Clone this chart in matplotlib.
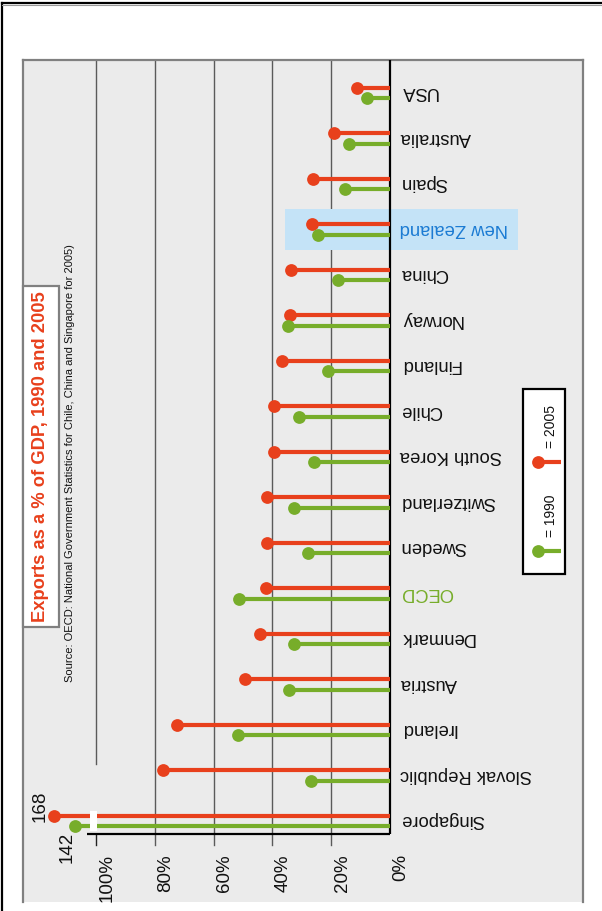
import matplotlib
matplotlib.use("Agg")
import matplotlib.pyplot as plt
from matplotlib.patches import Rectangle
from matplotlib.lines import Line2D
from matplotlib.transforms import Affine2D
from matplotlib import font_manager

# ---- data -------------------------------------------------------------
countries = ["Singapore", "Slovak Republic", "Ireland", "Austria", "Denmark",
             "OECD", "Sweden", "Switzerland", "South Korea", "Chile",
             "Finland", "Norway", "China", "New Zealand", "Spain",
             "Australia", "USA"]
exports_2005 = [168, 77.2, 72.4, 49.3, 44.2, 42.2, 41.8, 41.8, 39.5, 39.5,
                36.7, 34.0, 33.7, 26.5, 26.2, 19.0, 11.2]
exports_1990 = [142, 26.9, 51.7, 34.4, 32.7, 51.4, 27.9, 32.7, 25.9, 31.0,
                21.1, 34.7, 17.7, 24.5, 15.3, 13.9, 7.8]
tick_values = [0, 20, 40, 60, 80, 100]
tick_labels = ["0%", "20%", "40%", "60%", "80%", "100%"]
highlight = "New Zealand"
benchmark = "OECD"
title = "Exports as a % of GDP, 1990 and 2005"
source = ("Source: OECD: National Government Statistics for Chile, China "
          "and Singapore for 2005)")

# ---- style ------------------------------------------------------------
RED = "#E8401C"
GREEN = "#77AD2A"
BLUE_TXT = "#1B7BD3"
BLUE_BOX = "#C4E3F7"
PANEL = "#EBEBEB"
FONT = "Liberation Sans"
names = {f.name for f in font_manager.fontManager.ttflist}
NARROW = "Liberation Sans Narrow" if "Liberation Sans Narrow" in names else FONT

W, H = 602, 912
fig = plt.figure(figsize=(W / 100, H / 100), dpi=100)
px = Affine2D().scale(1 / W, -1 / H).translate(0, 1) + fig.transFigure

# panel geometry (pixels): value axis runs right-to-left
X0, XS = 390, 2.94      # pixel of 0 %, pixels per percentage point
Y0, YS = 822, 45.5      # pixel of first category, pixels per category
L, R, T, B = 23, 583, 61, 903

def v_at(xp):
    return (X0 - xp) / XS

def i_at(yp):
    return (Y0 - yp) / YS

ax = fig.add_axes([L / W, 1 - B / H, (R - L) / W, (B - T) / H])
ax.set_facecolor(PANEL)
ax.set_xlim(v_at(L), v_at(R))
ax.set_ylim(i_at(B), i_at(T))
ax.set_xticks([])
ax.set_yticks([])
for s in ("top", "left", "right"):
    ax.spines[s].set_color("#808080")
    ax.spines[s].set_linewidth(1.6)
ax.spines["bottom"].set_visible(False)

# values past 100 % are drawn on a compressed scale after an axis break
BREAK = 100

def shown(v):
    return v if v <= BREAK else 103 + (v - 127) * 0.277

# grid lines
axis_y = i_at(835)
tick_end = i_at(846)
for t in tick_values[1:-1]:
    ax.plot([t, t], [tick_end, i_at(T)], color="#5A5A5A", lw=1.0, zorder=1)
ax.plot([100, 100], [i_at(765), i_at(T)], color="#5A5A5A", lw=1.0, zorder=1)
ax.plot([100, 100], [tick_end, axis_y], color="#222222", lw=1.0, zorder=1)

# highlighted country band
k = countries.index(highlight)
ax.add_patch(Rectangle((v_at(518), k - 0.45), v_at(285) - v_at(518), 0.9,
                       facecolor=BLUE_BOX, edgecolor="none", zorder=1.5))

# axes lines
ax.plot([0, 0], [axis_y, i_at(T)], color="black", lw=1.6, zorder=3,
        solid_capstyle="butt")
ax.plot([0, v_at(87)], [axis_y, axis_y], color="black", lw=1.6, zorder=3,
        solid_capstyle="butt")

# lollipops
off = 0.11
for i, (a, b) in enumerate(zip(exports_2005, exports_1990)):
    ax.plot([0, shown(a)], [i + off, i + off], color=RED, lw=3.0,
            solid_capstyle="butt", zorder=4)
    ax.plot([0, shown(b)], [i - off, i - off], color=GREEN, lw=3.0,
            solid_capstyle="butt", zorder=4)
    ax.plot(shown(a), i + off, "o", color=RED, ms=9.2, mew=0, zorder=5)
    ax.plot(shown(b), i - off, "o", color=GREEN, ms=9.2, mew=0, zorder=5)

# axis break gap
ax.add_patch(Rectangle((v_at(97), i_at(832)), v_at(90) - v_at(97),
                       i_at(812) - i_at(832), facecolor="white",
                       edgecolor="none", zorder=6))

# value labels for the broken bars
ax.text(shown(exports_2005[0]) + 4.8, 0.35, f"{exports_2005[0]:g}",
        rotation=90, ha="center", va="center", fontsize=13.5,
        family=FONT, color="#111111", zorder=7)
ax.text(shown(exports_1990[0]) + 2.8, i_at(847), f"{exports_1990[0]:g}",
        rotation=90, ha="center", va="center", fontsize=13.5,
        family=FONT, color="#111111", zorder=7)

# value axis labels
for t, lab in zip(tick_values, tick_labels):
    ax.text(t - 11 / XS, i_at(854), lab, rotation=90, ha="center", va="top",
            fontsize=13.5, family=FONT, color="#111111", clip_on=False)

# category labels (upside down)
for i, name in enumerate(countries):
    col = "#111111"
    if name == highlight:
        col = BLUE_TXT
    elif name == benchmark:
        col = GREEN
    ax.text(v_at(400), i + 0.05, name, rotation=180, ha="left", va="center",
            fontsize=13.2, family=FONT, color=col, zorder=7)

# title box
fig.add_artist(Rectangle((23, 287), 36, 341, transform=px, facecolor="white",
                         edgecolor="#808080", lw=1.6, zorder=8))
fig.text(41, 457, title, transform=px, rotation=90, ha="center", va="center",
         fontsize=16 if NARROW != FONT else 13.2, fontweight="bold",
         family=NARROW, color=RED, zorder=9)
fig.text(70, 463, source, transform=px, rotation=90, ha="center",
         va="center", fontsize=8.0, family=FONT, color="#111111", zorder=9)

# legend
fig.add_artist(Rectangle((523, 390), 42, 185, transform=px, facecolor="white",
                         edgecolor="black", lw=1.6, zorder=8))
for yy, col, lab in ((552, GREEN, "= 1990"), (463, RED, "= 2005")):
    fig.add_artist(Line2D([538, 561], [yy, yy], transform=px, color=col,
                          lw=3.0, solid_capstyle="butt", zorder=9))
    fig.add_artist(Line2D([538], [yy], transform=px, marker="o", color=col,
                          ms=9.2, mew=0, zorder=10))
    fig.text(551, yy - 36, lab, transform=px, rotation=90, ha="center",
             va="center", fontsize=10, family=FONT, color="#111111",
             zorder=10)

# outer frame
fig.add_artist(Line2D([2, 2], [4, H], transform=px, color="black", lw=1.6))
fig.add_artist(Line2D([2, W], [4, 4], transform=px, color="black", lw=1.6))
fig.add_artist(Line2D([2, W], [5.5, 5.5], transform=px, color="#999999",
                      lw=0.8))

fig.savefig("out.png", dpi=100, facecolor="white")
